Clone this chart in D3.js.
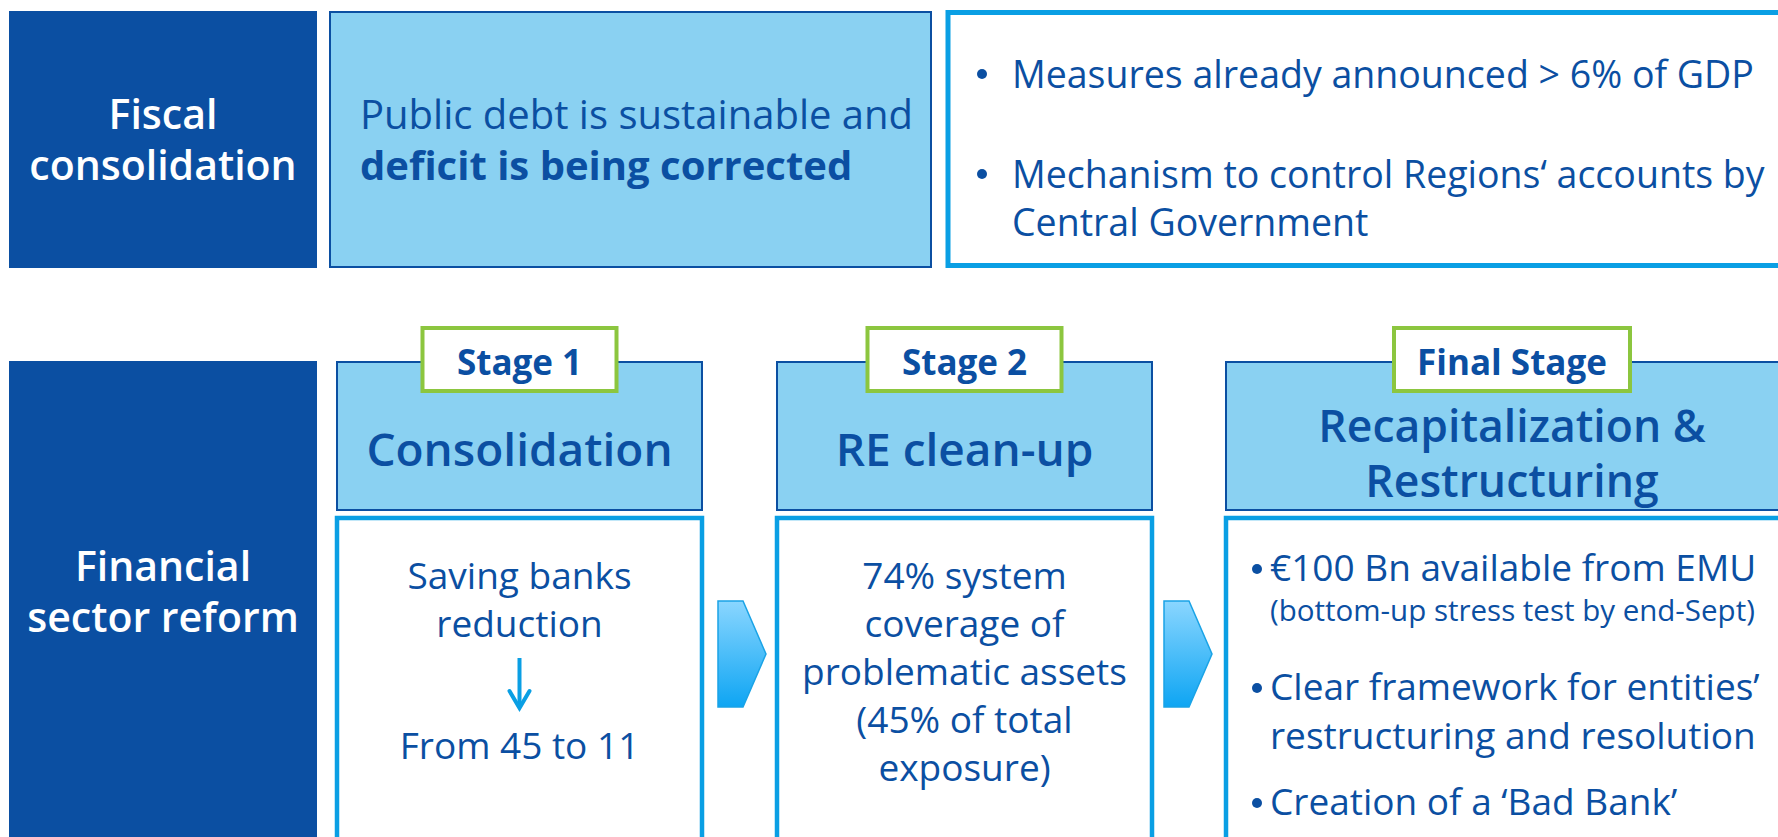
<!DOCTYPE html>
<html lang="en">
<head>
<meta charset="UTF-8">
<title>Fiscal consolidation and financial sector reform</title>
<style>
  body { margin: 0; background: #fff; }
  svg { display: block; font-family: "Open Sans", "Noto Sans", sans-serif; }
</style>
</head>
<body>
<div id="chart"></div>
<script src="https://d3js.org/d3.v7.min.js"></script>
<script>
// ---- content ----
const rowLabels = [["Fiscal", "consolidation"], ["Financial", "sector reform"]];
const fiscalSummary = [
  { text: "Public debt is sustainable and", bold: false },
  { text: "deficit is being corrected", bold: true }
];
const fiscalBullets = [
  ["Measures already announced > 6% of GDP"],
  ["Mechanism to control Regions\u2018 accounts by", "Central Government"]
];
const stageTags = ["Stage 1", "Stage 2", "Final Stage"];
const stageTitles = [["Consolidation"], ["RE clean-up"], ["Recapitalization &", "Restructuring"]];
const stage1Body = ["Saving banks", "reduction", "\u2193", "From 45 to 11"];
const stage2Body = ["74% system", "coverage of", "problematic assets", "(45% of total", "exposure)"];
const stage3Bullets = [
  { main: ["\u20ac100 Bn available from EMU"], note: "(bottom-up stress test by end-Sept)" },
  { main: ["Clear framework for entities\u2019", "restructuring and resolution"], note: null },
  { main: ["Creation of a \u2018Bad Bank\u2019"], note: null }
];

// ---- style ----
const W = 1778, H = 837;
const navy = "#0B4FA2", sky = "#8AD1F2", cyan = "#0A9FE4", green = "#8CC63F";

const svg = d3.select("#chart").append("svg")
  .attr("width", W).attr("height", H);

const defs = svg.append("defs");
const grad = defs.append("linearGradient").attr("id", "chev")
  .attr("x1", 0).attr("y1", 0).attr("x2", 0).attr("y2", 1);
grad.append("stop").attr("offset", "0%").attr("stop-color", "#8AD6FF");
grad.append("stop").attr("offset", "100%").attr("stop-color", "#0EA5F3");

// one <text> per block, one <tspan> per line
function lines(g, arr, x, y0, step, opts) {
  const t = g.append("text")
    .attr("text-anchor", opts.anchor || "middle")
    .attr("fill", opts.fill || navy)
    .attr("font-size", opts.size)
    .attr("font-weight", opts.weight || 400);
  t.selectAll("tspan").data(arr).enter().append("tspan")
    .attr("x", x).attr("y", (d, i) => y0 + i * step)
    .text(d => d);
  return t;
}

// ---- row 1 : fiscal consolidation ----
const fiscal = svg.append("g");
fiscal.append("rect").attr("x", 9).attr("y", 11).attr("width", 308).attr("height", 257).attr("fill", navy);
lines(fiscal, rowLabels[0], 163, 129, 51, { fill: "#fff", size: 41, weight: 600 });

fiscal.append("rect").attr("x", 330).attr("y", 12).attr("width", 601).attr("height", 255)
  .attr("fill", sky).attr("stroke", navy).attr("stroke-width", 2);
const sumText = fiscal.append("text").attr("fill", navy).attr("font-size", 40);
sumText.selectAll("tspan").data(fiscalSummary).enter().append("tspan")
  .attr("x", 360).attr("y", (d, i) => 129 + i * 51)
  .attr("font-weight", d => d.bold ? 700 : 400)
  .text(d => d.text);

fiscal.append("rect").attr("x", 948).attr("y", 12.5).attr("width", 860).attr("height", 253)
  .attr("fill", "#fff").attr("stroke", cyan).attr("stroke-width", 5);
const bulletY = [88, 188];
fiscalBullets.forEach((b, i) => {
  fiscal.append("circle").attr("cx", 982).attr("cy", bulletY[i] - 14).attr("r", 5).attr("fill", navy);
  lines(fiscal, b, 1012, bulletY[i], 48, { anchor: "start", size: 37.5 });
});

// ---- row 2 : financial sector reform ----
const reform = svg.append("g");
reform.append("rect").attr("x", 9).attr("y", 361).attr("width", 308).attr("height", 500).attr("fill", navy);
lines(reform, rowLabels[1], 163, 581, 51, { fill: "#fff", size: 41, weight: 600 });

const cols = [
  { x0: 337, x1: 702, tagW: 194 },
  { x0: 777, x1: 1152, tagW: 194 },
  { x0: 1226, x1: 1798, tagW: 236 }
];
const headTop = 362, headBot = 510, bodyTop = 518;

cols.forEach((c, i) => {
  const cx = (c.x0 + c.x1) / 2;
  const g = reform.append("g");
  g.append("rect").attr("x", c.x0).attr("y", headTop).attr("width", c.x1 - c.x0).attr("height", headBot - headTop)
    .attr("fill", sky).attr("stroke", navy).attr("stroke-width", 2);
  g.append("rect").attr("x", cx - c.tagW / 2).attr("y", 328).attr("width", c.tagW).attr("height", 63)
    .attr("fill", "#fff").attr("stroke", green).attr("stroke-width", 4);
  lines(g, [stageTags[i]], cx, 375, 0, { size: 35, weight: 700 });
  const t = stageTitles[i];
  if (t.length === 1) lines(g, t, cx, 466, 0, { size: 46, weight: 600 });
  else lines(g, t, cx, 442, 55, { size: 44.5, weight: 600 });
  g.append("rect").attr("x", c.x0).attr("y", bodyTop).attr("width", c.x1 - c.x0).attr("height", 400)
    .attr("fill", "#fff").attr("stroke", cyan).attr("stroke-width", 4.5);
  c.cx = cx;
});

// stage 1 body
const b1 = reform.append("g");
lines(b1, stage1Body.slice(0, 2), cols[0].cx, 589, 48, { size: 37 });
b1.append("line").attr("x1", cols[0].cx).attr("x2", cols[0].cx).attr("y1", 658).attr("y2", 706)
  .attr("stroke", cyan).attr("stroke-width", 4);
b1.append("path").attr("d", d3.line()([[cols[0].cx - 10, 691], [cols[0].cx, 708], [cols[0].cx + 10, 691]]))
  .attr("fill", "none").attr("stroke", cyan).attr("stroke-width", 4).attr("stroke-linecap", "round");
lines(b1, [stage1Body[3]], cols[0].cx, 759, 0, { size: 37 });

// stage 2 body
lines(reform.append("g"), stage2Body, cols[1].cx, 589, 48, { size: 37 });

// stage 3 body
const b3 = reform.append("g");
const mainY = [581, 700, 815];
stage3Bullets.forEach((b, i) => {
  b3.append("circle").attr("cx", 1257).attr("cy", mainY[i] - 12).attr("r", 5).attr("fill", navy);
  lines(b3, b.main, 1270, mainY[i], 49, { anchor: "start", size: 37 });
  if (b.note) lines(b3, [b.note], 1270, mainY[i] + 40, 0, { anchor: "start", size: 29.5 });
});

// chevrons between stages
[[718, 601], [1164, 601]].forEach(([x, y]) => {
  reform.append("path")
    .attr("d", d3.line()([[x, y], [x + 25, y], [x + 48, y + 53], [x + 25, y + 106], [x, y + 106]]) + "Z")
    .attr("fill", "url(#chev)").attr("stroke", "#1AA3E6").attr("stroke-width", 1.5);
});
</script>
</body>
</html>
